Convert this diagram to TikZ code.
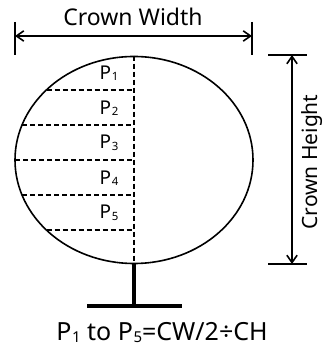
\documentclass[tikz,border=0pt]{standalone}
\usepackage{fontspec}
\setmainfont{Noto Sans}
\usepackage{tikz}
\usetikzlibrary{arrows.meta,positioning,calc,shapes.geometric}

\newcommand{\psub}[1]{P\kern0.6pt\raisebox{-0.15ex}{\scalebox{0.6}{#1}}}

\begin{document}
\begin{tikzpicture}[
  x=1pt, y=1pt,
  crownshape/.style={
    draw, ellipse, line width=1.6pt, minimum width=238pt, minimum height=207pt, inner sep=0pt
  },
  dashline/.style={dashed, dash pattern=on 5pt off 3pt, line width=1.5pt},
  tick/.style={line width=1.6pt},
  dim/.style={{Straight Barb[length=2.6mm,width=3.6mm]}-{Straight Barb[length=2.6mm,width=3.6mm]}, line width=1.6pt},
  stem/.style={line width=4.5pt},
  label/.style={font=\fontsize{23}{27}\selectfont, inner sep=0pt},
  plabel/.style={font=\fontsize{19}{22}\selectfont, inner sep=0pt}
]
  \useasboundingbox (0,0) rectangle (325,352);
  % crown
  \node[crownshape] (crown) at (134,192) {};
  \draw[dashline] (crown.north) -- (crown.south);
  \foreach \dy in {70,35,0,-35,-70} {
    \pgfmathsetmacro{\dx}{119*sqrt(1-(\dy/103)^2)}
    \draw[dashline] ($(crown.center)+(-\dx,\dy)$) -- ($(crown.center)+(0,\dy)$);
  }
  \foreach \i/\dy in {1/87,2/52,3/17,4/-18,5/-53}
    \node[plabel] (p\i) at ($(crown.center)+(-25,\dy)$) {\psub{\i}};
  % crown width
  \coordinate (cwL) at (15,316);
  \coordinate (cwR) at (252,316);
  \draw[tick] ($(cwL)+(0,14)$) -- ($(cwL)+(0,-19)$);
  \draw[tick] ($(cwR)+(0,14)$) -- ($(cwR)+(0,-19)$);
  \draw[dim] (cwL) -- (cwR);
  \node[label] (cw) at (133,335) {Crown Width};
  % crown height
  \coordinate (chT) at (292,297);
  \coordinate (chB) at (292,88);
  \draw[tick] ($(chT)+(-24,0)$) -- ($(chT)+(15,0)$);
  \draw[tick] ($(chB)+(-24,0)$) -- ($(chB)+(15,0)$);
  \draw[dim] (chT) -- (chB);
  \node[label, rotate=90, font=\fontsize{21}{25}\selectfont] (ch) at (312,190) {Crown Height};
  % trunk
  \coordinate (base) at (134,46);
  \draw[stem] (crown.south) -- (base);
  \draw[stem] ($(base)+(-47,0)$) -- ($(base)+(48,0)$);
  \node[label, font=\fontsize{25}{29}\selectfont] (formula) at (162,19) {\psub{1} to \psub{5}=CW/2÷CH};
\end{tikzpicture}
\end{document}
